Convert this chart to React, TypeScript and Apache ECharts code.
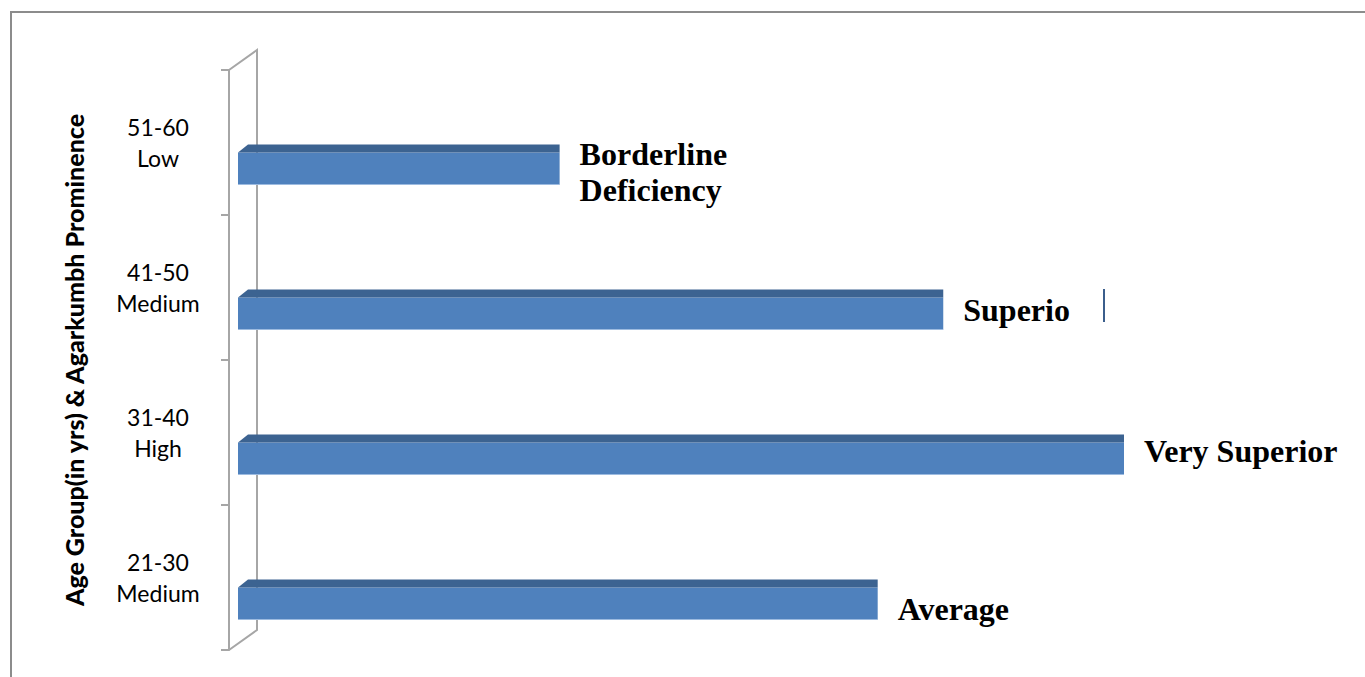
import React, { useEffect, useRef } from "react";
import * as echarts from "echarts";

const categories = ["21-30\nMedium", "31-40\nHigh", "41-50\nMedium", "51-60\nLow"];
const values = [72.2, 100, 79.6, 36.3];
const barLabels = ["Average", "Very Superior", "Superio", "Borderline\nDeficiency"];
const yAxisTitle = "Age Group(in yrs) & Agarkumbh Prominence";

// small vertical nudges of the bar-end texts, as placed in the original
const labelNudge = [5, -8, -4, 3];

export default function App() {
  const ref = useRef<HTMLDivElement>(null);
  useEffect(() => {
    const chart = echarts.init(ref.current!, undefined, { renderer: "svg" });
    const wallColor = "#a6a6a6";
    chart.setOption({
      animation: false,
      backgroundColor: "#ffffff",
      grid: [
        { left: 229, top: 70, width: 900, height: 580 },
        { left: 238, top: 96, width: 886, height: 580 },
      ],
      xAxis: [
        { gridIndex: 0, type: "value", min: 0, max: 100, show: false },
        { gridIndex: 1, type: "value", min: 0, max: 100, show: false },
      ],
      yAxis: [
        {
          gridIndex: 0,
          type: "category",
          data: categories,
          axisLine: { show: true, lineStyle: { color: wallColor, width: 2 } },
          axisTick: { show: true, length: 8, lineStyle: { color: wallColor, width: 2 } },
          axisLabel: {
            align: "center",
            margin: 71,
            fontFamily: "Lato",
            fontSize: 23,
            lineHeight: 31,
            color: "#000",
            padding: [12, 0, 0, 0],
          },
          splitLine: { show: false },
          name: yAxisTitle,
          nameLocation: "middle",
          nameRotate: 90,
          nameGap: 143,
          nameTextStyle: {
            fontFamily: "Lato",
            fontWeight: 900,
            fontSize: 25,
            color: "#000",
          },
        },
        {
          gridIndex: 1,
          type: "category",
          data: categories,
          show: false,
        },
      ],
      graphic: [
        {
          type: "rect",
          shape: { x: 11, y: 12, width: 1400, height: 700 },
          style: { fill: "none", stroke: "#8c8c8c", lineWidth: 2 },
        },
        {
          type: "polyline",
          shape: { points: [[229, 70], [257, 50], [257, 630], [229, 650]] },
          style: { fill: "none", stroke: wallColor, lineWidth: 2 },
        },
        {
          type: "line",
          shape: { x1: 1104, y1: 289, x2: 1104, y2: 322 },
          style: { stroke: "#3b5e8c", lineWidth: 2 },
        },
      ],
      series: [
        {
          type: "custom",
          xAxisIndex: 1,
          yAxisIndex: 1,
          encode: { x: 0, y: 1 },
          data: values.map((v, i) => [v, i]),
          renderItem: (params: any, api: any) => {
            const cat = api.value(1);
            const val = api.value(0);
            const start = api.coord([0, cat]);
            const end = api.coord([val, cat]);
            const h = 32;
            const d = 8;
            const dx = 10;
            const yTop = end[1] - h / 2;
            return {
              type: "group",
              children: [
                {
                  type: "rect",
                  shape: { x: start[0], y: yTop, width: end[0] - start[0], height: h },
                  style: { fill: "#4f81bd" },
                },
                {
                  type: "line",
                  shape: { x1: start[0], y1: yTop + h, x2: end[0], y2: yTop + h },
                  style: { stroke: "#9dbbe0", lineWidth: 1 },
                },
                {
                  type: "polygon",
                  shape: {
                    points: [
                      [start[0], yTop],
                      [start[0] + dx, yTop - d],
                      [end[0], yTop - d],
                      [end[0], yTop],
                    ],
                  },
                  style: { fill: "#3c6391" },
                },
                {
                  type: "text",
                  x: end[0] + 20,
                  y: end[1] + labelNudge[params.dataIndex],
                  style: {
                    text: barLabels[params.dataIndex],
                    fill: "#000",
                    fontFamily: "Liberation Serif",
                    fontWeight: "bold",
                    fontSize: 32,
                    lineHeight: 36,
                    align: "left",
                    verticalAlign: "middle",
                  },
                },
              ],
            };
          },
        },
      ],
    });
    return () => chart.dispose();
  }, []);
  return (
    <div
      ref={ref}
      style={{ position: "fixed", left: 0, top: 0, width: 1365, height: 677 }}
    />
  );
}
